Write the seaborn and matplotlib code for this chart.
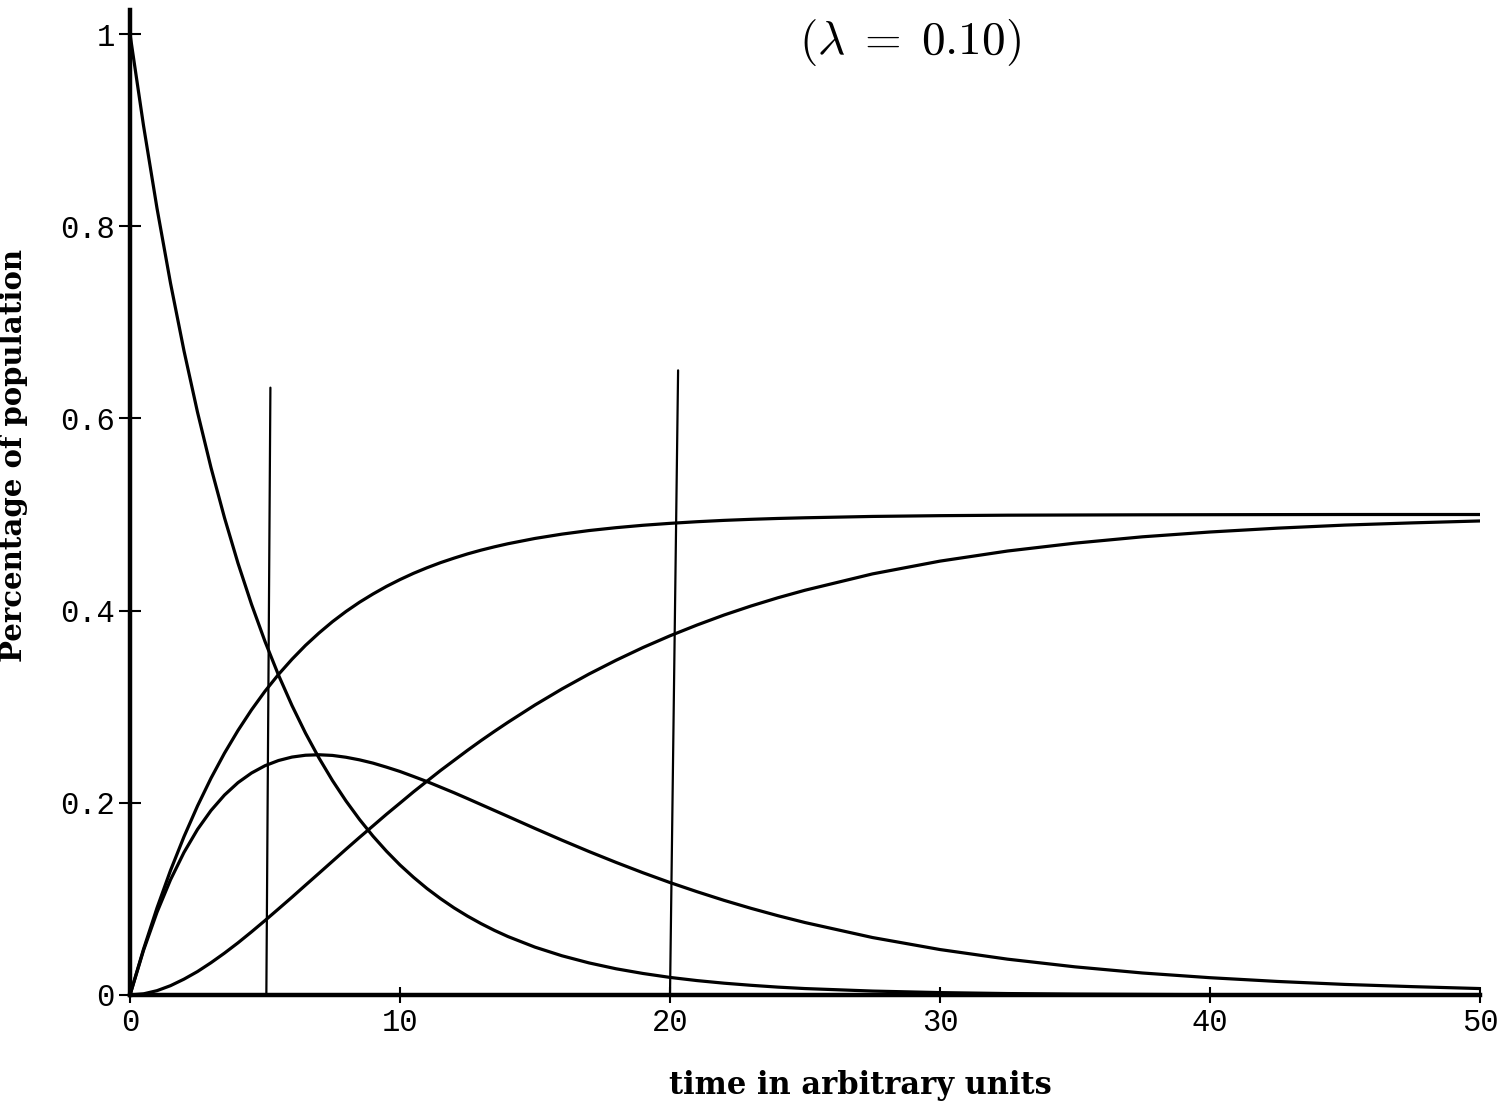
import matplotlib
matplotlib.use("Agg")
import matplotlib.pyplot as plt
import seaborn as sns
import pandas as pd

# ---- data ----
t = [0, 0.5, 1, 1.5, 2, 2.5, 3, 3.5, 4, 4.5, 5, 5.5, 6, 6.5, 7, 7.5, 8, 8.5, 9, 9.5,
     10, 10.5, 11, 11.5, 12, 12.5, 13, 13.5, 14, 15, 16, 17, 18, 19, 20,
     21, 22, 23, 24, 25, 27.5, 30, 32.5, 35, 37.5, 40, 42.5, 45, 47.5, 50]

decaying = [1.0, 0.9048, 0.8187, 0.7408, 0.6703, 0.6065, 0.5488, 0.4966, 0.4493,
            0.4066, 0.3679, 0.3329, 0.3012, 0.2725, 0.2466, 0.2231, 0.2019, 0.1827,
            0.1653, 0.1496, 0.1353, 0.1225, 0.1108, 0.1003, 0.0907, 0.0821, 0.0743,
            0.0672, 0.0608, 0.0498, 0.0408, 0.0334, 0.0273, 0.0224, 0.0183, 0.0150,
            0.0123, 0.0101, 0.0082, 0.0067, 0.0041, 0.0025, 0.0015, 0.0009, 0.0006,
            0.0003, 0.0002, 0.0001, 0.0001, 0.0]

fast_rise = [0.0, 0.0476, 0.0906, 0.1296, 0.1648, 0.1967, 0.2256, 0.2517, 0.2753,
             0.2967, 0.3161, 0.3336, 0.3494, 0.3638, 0.3767, 0.3885, 0.3991, 0.4087,
             0.4173, 0.4252, 0.4323, 0.4388, 0.4446, 0.4499, 0.4546, 0.4590, 0.4629,
             0.4664, 0.4696, 0.4751, 0.4796, 0.4833, 0.4863, 0.4888, 0.4908, 0.4925,
             0.4939, 0.4950, 0.4959, 0.4966, 0.4980, 0.4988, 0.4993, 0.4995, 0.4997,
             0.4998, 0.4999, 0.5, 0.5, 0.5]

hump = [0.0, 0.0464, 0.0861, 0.1199, 0.1484, 0.1723, 0.1920, 0.2081, 0.2210,
        0.2310, 0.2386, 0.2440, 0.2476, 0.2495, 0.2500, 0.2493, 0.2474, 0.2447,
        0.2413, 0.2371, 0.2326, 0.2274, 0.2221, 0.2163, 0.2105, 0.2044, 0.1982,
        0.1920, 0.1858, 0.1733, 0.1611, 0.1493, 0.1380, 0.1272, 0.1170, 0.1075,
        0.0985, 0.0902, 0.0825, 0.0754, 0.0598, 0.0473, 0.0373, 0.0293, 0.0229,
        0.0180, 0.0141, 0.0110, 0.0087, 0.0067]

slow_rise = [0.0, 0.0012, 0.0045, 0.0097, 0.0165, 0.0244, 0.0336, 0.0436, 0.0543,
             0.0657, 0.0775, 0.0896, 0.1018, 0.1143, 0.1267, 0.1392, 0.1517, 0.1640,
             0.1760, 0.1881, 0.1997, 0.2114, 0.2225, 0.2336, 0.2441, 0.2546, 0.2647,
             0.2744, 0.2838, 0.3018, 0.3185, 0.3340, 0.3483, 0.3616, 0.3738, 0.3850,
             0.3954, 0.4048, 0.4134, 0.4212, 0.4382, 0.4515, 0.4620, 0.4702, 0.4768,
             0.4818, 0.4858, 0.4890, 0.4913, 0.4933]

# vertical marker lines (bottom x, top x, top y)
marker_x_bottom = [5.05, 20.0]
marker_x_top = [5.2, 20.3]
marker_top = [0.632, 0.650]

xticks = [0, 10, 20, 30, 40, 50]
xtick_labels = ["0", "10", "20", "30", "40", "50"]
yticks = [0, 0.2, 0.4, 0.6, 0.8, 1.0]
ytick_labels = ["0", "0.2", "0.4", "0.6", "0.8", "1"]

title = r"$(\lambda\;=\;0.10)$"
xlabel = "time in arbitrary units"
ylabel = "Percentage of population"

# ---- build long table ----
frames = []
for name, vals in [("decaying", decaying), ("fast_rise", fast_rise),
                   ("hump", hump), ("slow_rise", slow_rise)]:
    frames.append(pd.DataFrame({"t": t, "value": vals, "curve": name}))
df = pd.concat(frames, ignore_index=True)

sns.set_style("white")
plt.rcParams["mathtext.fontset"] = "cm"
plt.rcParams["text.color"] = "black"
plt.rcParams["axes.labelcolor"] = "black"

fig = plt.figure(figsize=(15.02, 11.2), dpi=100)
ax = fig.add_axes([130 / 1502, 125 / 1120, 1350 / 1502, 985 / 1120])

sns.lineplot(data=df, x="t", y="value", units="curve", estimator=None,
             color="black", linewidth=2.3, ax=ax, legend=False)

for xb, xt, yt in zip(marker_x_bottom, marker_x_top, marker_top):
    ax.plot([xb, xt], [0, yt], color="black", linewidth=1.6)

ax.set_xlim(0, 50)
ax.set_ylim(0, 1.025)

for s in ["top", "right"]:
    ax.spines[s].set_visible(False)
for s in ["left", "bottom"]:
    ax.spines[s].set_linewidth(3.2)
    ax.spines[s].set_color("black")

ax.set_xticks(xticks)
ax.set_xticklabels(xtick_labels, family="Liberation Mono", fontsize=22)
ax.set_yticks(yticks)
ax.set_yticklabels(ytick_labels, family="Liberation Mono", fontsize=22)
ax.tick_params(axis="y", left=True, direction="inout", length=16, width=1.5,
               pad=3, colors="black", labelcolor="black")
ax.tick_params(axis="x", bottom=True, direction="inout", length=11, width=1.5,
               pad=4, colors="black", labelcolor="black")

ax.set_xlabel(xlabel, family="DejaVu Serif", fontweight="bold", fontsize=22, color="black")
ax.set_ylabel(ylabel, family="DejaVu Serif", fontweight="bold", fontsize=21, color="black")
ax.xaxis.set_label_coords((860 - 130) / 1350, -(1070 - 995) / 985)
ax.yaxis.set_label_coords(-(130 - 28) / 1350, (995 - 455) / 985)

fig.text(910 / 1502, 1 - 42 / 1120, title, ha="center", va="center",
         fontsize=34, color="black")

fig.savefig("out.png", dpi=100, facecolor="white")
